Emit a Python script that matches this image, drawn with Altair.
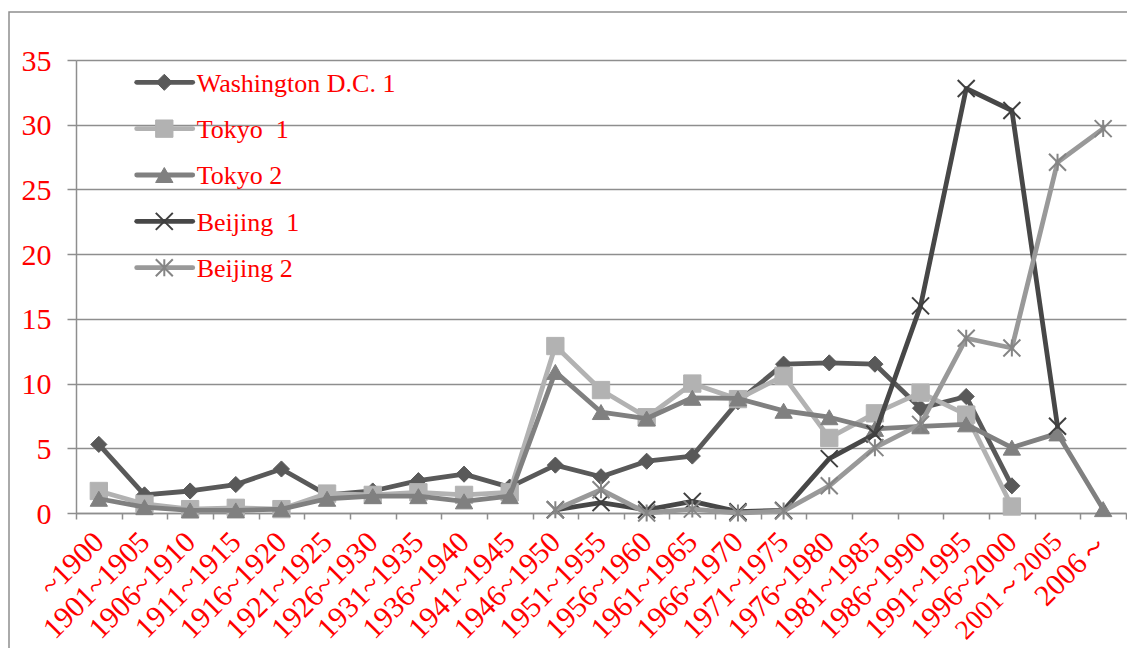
import altair as alt
import pandas as pd

categories = ["~1900", "1901~1905", "1906~1910", "1911~1915", "1916~1920", "1921~1925",
              "1926~1930", "1931~1935", "1936~1940", "1941~1945", "1946~1950", "1951~1955",
              "1956~1960", "1961~1965", "1966~1970", "1971~1975", "1976~1980", "1981~1985",
              "1986~1990", "1991~1995", "1996~2000", "2001～2005", "2006～"]

series_names = ["Washington D.C. 1", "Tokyo  1", "Tokyo 2", "Beijing  1", "Beijing 2"]

washington_dc_1 = [5.3, 1.4, 1.7, 2.2, 3.4, 1.4, 1.7, 2.5, 3.0, 2.0, 3.7, 2.8, 4.0, 4.4,
                   8.6, 11.5, 11.6, 11.5, 8.1, 9.0, 2.1, None, None]
tokyo_1 = [1.7, 0.7, 0.3, 0.4, 0.3, 1.5, 1.4, 1.6, 1.4, 1.6, 12.9, 9.5, 7.4, 10.0,
           8.8, 10.6, 5.8, 7.7, 9.3, 7.6, 0.5, None, None]
tokyo_2 = [1.1, 0.45, 0.2, 0.2, 0.3, 1.1, 1.3, 1.3, 0.9, 1.3, 10.9, 7.8, 7.3, 8.9,
           8.85, 7.9, 7.4, 6.5, 6.7, 6.85, 5.05, 6.15, 0.3]
beijing_1 = [None, None, None, None, None, None, None, None, None, None, 0.25, 0.8, 0.25, 0.9,
             0.1, 0.2, 4.2, 6.1, 16.0, 32.8, 31.1, 6.7, None]
beijing_2 = [None, None, None, None, None, None, None, None, None, None, 0.25, 1.8, 0.0, 0.3,
             0.0, 0.15, 2.1, 5.05, 6.85, 13.5, 12.75, 27.1, 29.7]

y_ticks = [0, 5, 10, 15, 20, 25, 30, 35]

series_values = [washington_dc_1, tokyo_1, tokyo_2, beijing_1, beijing_2]
line_colors = ["#595959", "#b2b2b2", "#808080", "#474747", "#999999"]
marker_colors = ["#595959", "#b2b2b2", "#808080", "#3f3f3f", "#858585"]
X_PATH = "M-1,-1L1,1M-1,1L1,-1"
STAR_PATH = "M-1,-1L1,1M-1,1L1,-1M0,-1L0,1"
marker_shapes = ["diamond", "square", "triangle-up", X_PATH, STAR_PATH]
marker_sizes = [260, 300, 300, 289, 289]
marker_stroke_w = [1, 1, 1, 2, 2]

FONT = "Liberation Serif"
GRID = "#8e8e8e"
RED = "#ff0000"
W, H = 1050, 453

x_enc = alt.X(
    "cat:N", sort=categories,
    scale=alt.Scale(type="band", domain=categories, paddingInner=0, paddingOuter=0),
    bandPosition=0.5,
    axis=alt.Axis(title=None, labelAngle=-45, labelAlign="right", labelBaseline="middle",
                  labelFont=FONT,
                  labelFontSize=alt.condition("datum.label == '2001～2005'",
                                              alt.value(27.5), alt.value(30)),
                  labelColor=RED, tickBand="extent",
                  tickSize=6, tickColor=GRID, tickWidth=1.5, domainColor=GRID, domainWidth=1.5,
                  labelPadding=18, labelOverlap=False, labelBound=False, labelFlush=False,
                  grid=False),
)
y_enc = alt.Y(
    "value:Q",
    scale=alt.Scale(domain=[0, 35], nice=False, zero=True),
    axis=alt.Axis(values=y_ticks, title=None, grid=True, gridColor=GRID, gridWidth=1.5,
                  domainColor=GRID, domainWidth=1.5, tickColor=GRID, tickSize=9, tickWidth=1.5,
                  labelFont=FONT, labelFontSize=30, labelColor=RED, labelPadding=16,
                  labelBaseline="alphabetic", labelOffset=10),
)

layers = []
one = pd.DataFrame({"k": [0]})

# chart border
layers.append(
    alt.Chart(one).mark_rect(fillOpacity=0, stroke=GRID, strokeWidth=1.5).encode(
        x=alt.value(-67), x2=alt.value(1100), y=alt.value(-48), y2=alt.value(700)
    )
)

for i, name in enumerate(series_names):
    rows = [{"cat": c, "value": v, "series": name}
            for c, v in zip(categories, series_values[i]) if v is not None]
    df = pd.DataFrame(rows)
    base = alt.Chart(df)
    layers.append(base.mark_line(color=line_colors[i], strokeWidth=4.8, strokeCap="round",
                                 strokeJoin="round").encode(x=x_enc, y=y_enc))
    layers.append(base.mark_point(shape=marker_shapes[i], size=marker_sizes[i], filled=True,
                                  fill=marker_colors[i], stroke=marker_colors[i],
                                  strokeWidth=marker_stroke_w[i], opacity=1)
                  .encode(x=x_enc, y=y_enc))

# legend inside the plot
LEG_TOP, LEG_STEP = 22.3, 46.35
for i, name in enumerate(series_names):
    ry = LEG_TOP + i * LEG_STEP
    leg = alt.Chart(one)
    layers.append(leg.mark_rule(color=line_colors[i], strokeWidth=4.8, strokeCap="round")
                  .encode(x=alt.value(60.7), x2=alt.value(116.7), y=alt.value(ry)))
    layers.append(leg.mark_point(shape=marker_shapes[i], size=marker_sizes[i], filled=True,
                                 fill=marker_colors[i], stroke=marker_colors[i],
                                 strokeWidth=marker_stroke_w[i], opacity=1)
                  .encode(x=alt.value(88.3), y=alt.value(ry)))
    layers.append(leg.mark_text(align="left", baseline="alphabetic", font=FONT, fontSize=26,
                                color=RED, dy=9.4)
                  .encode(x=alt.value(120.7), y=alt.value(ry),
                          text=alt.value(name.replace("  ", " \u00a0"))))

chart = alt.layer(*layers).properties(
    width=W, height=H,
    autosize=alt.AutoSizeParams(type="none"),
    padding={"left": 68, "top": 52, "right": 1, "bottom": 135},
    background="white",
).configure_view(strokeWidth=0)

chart.save("out.html", embed_options={"renderer": "svg", "actions": False})
